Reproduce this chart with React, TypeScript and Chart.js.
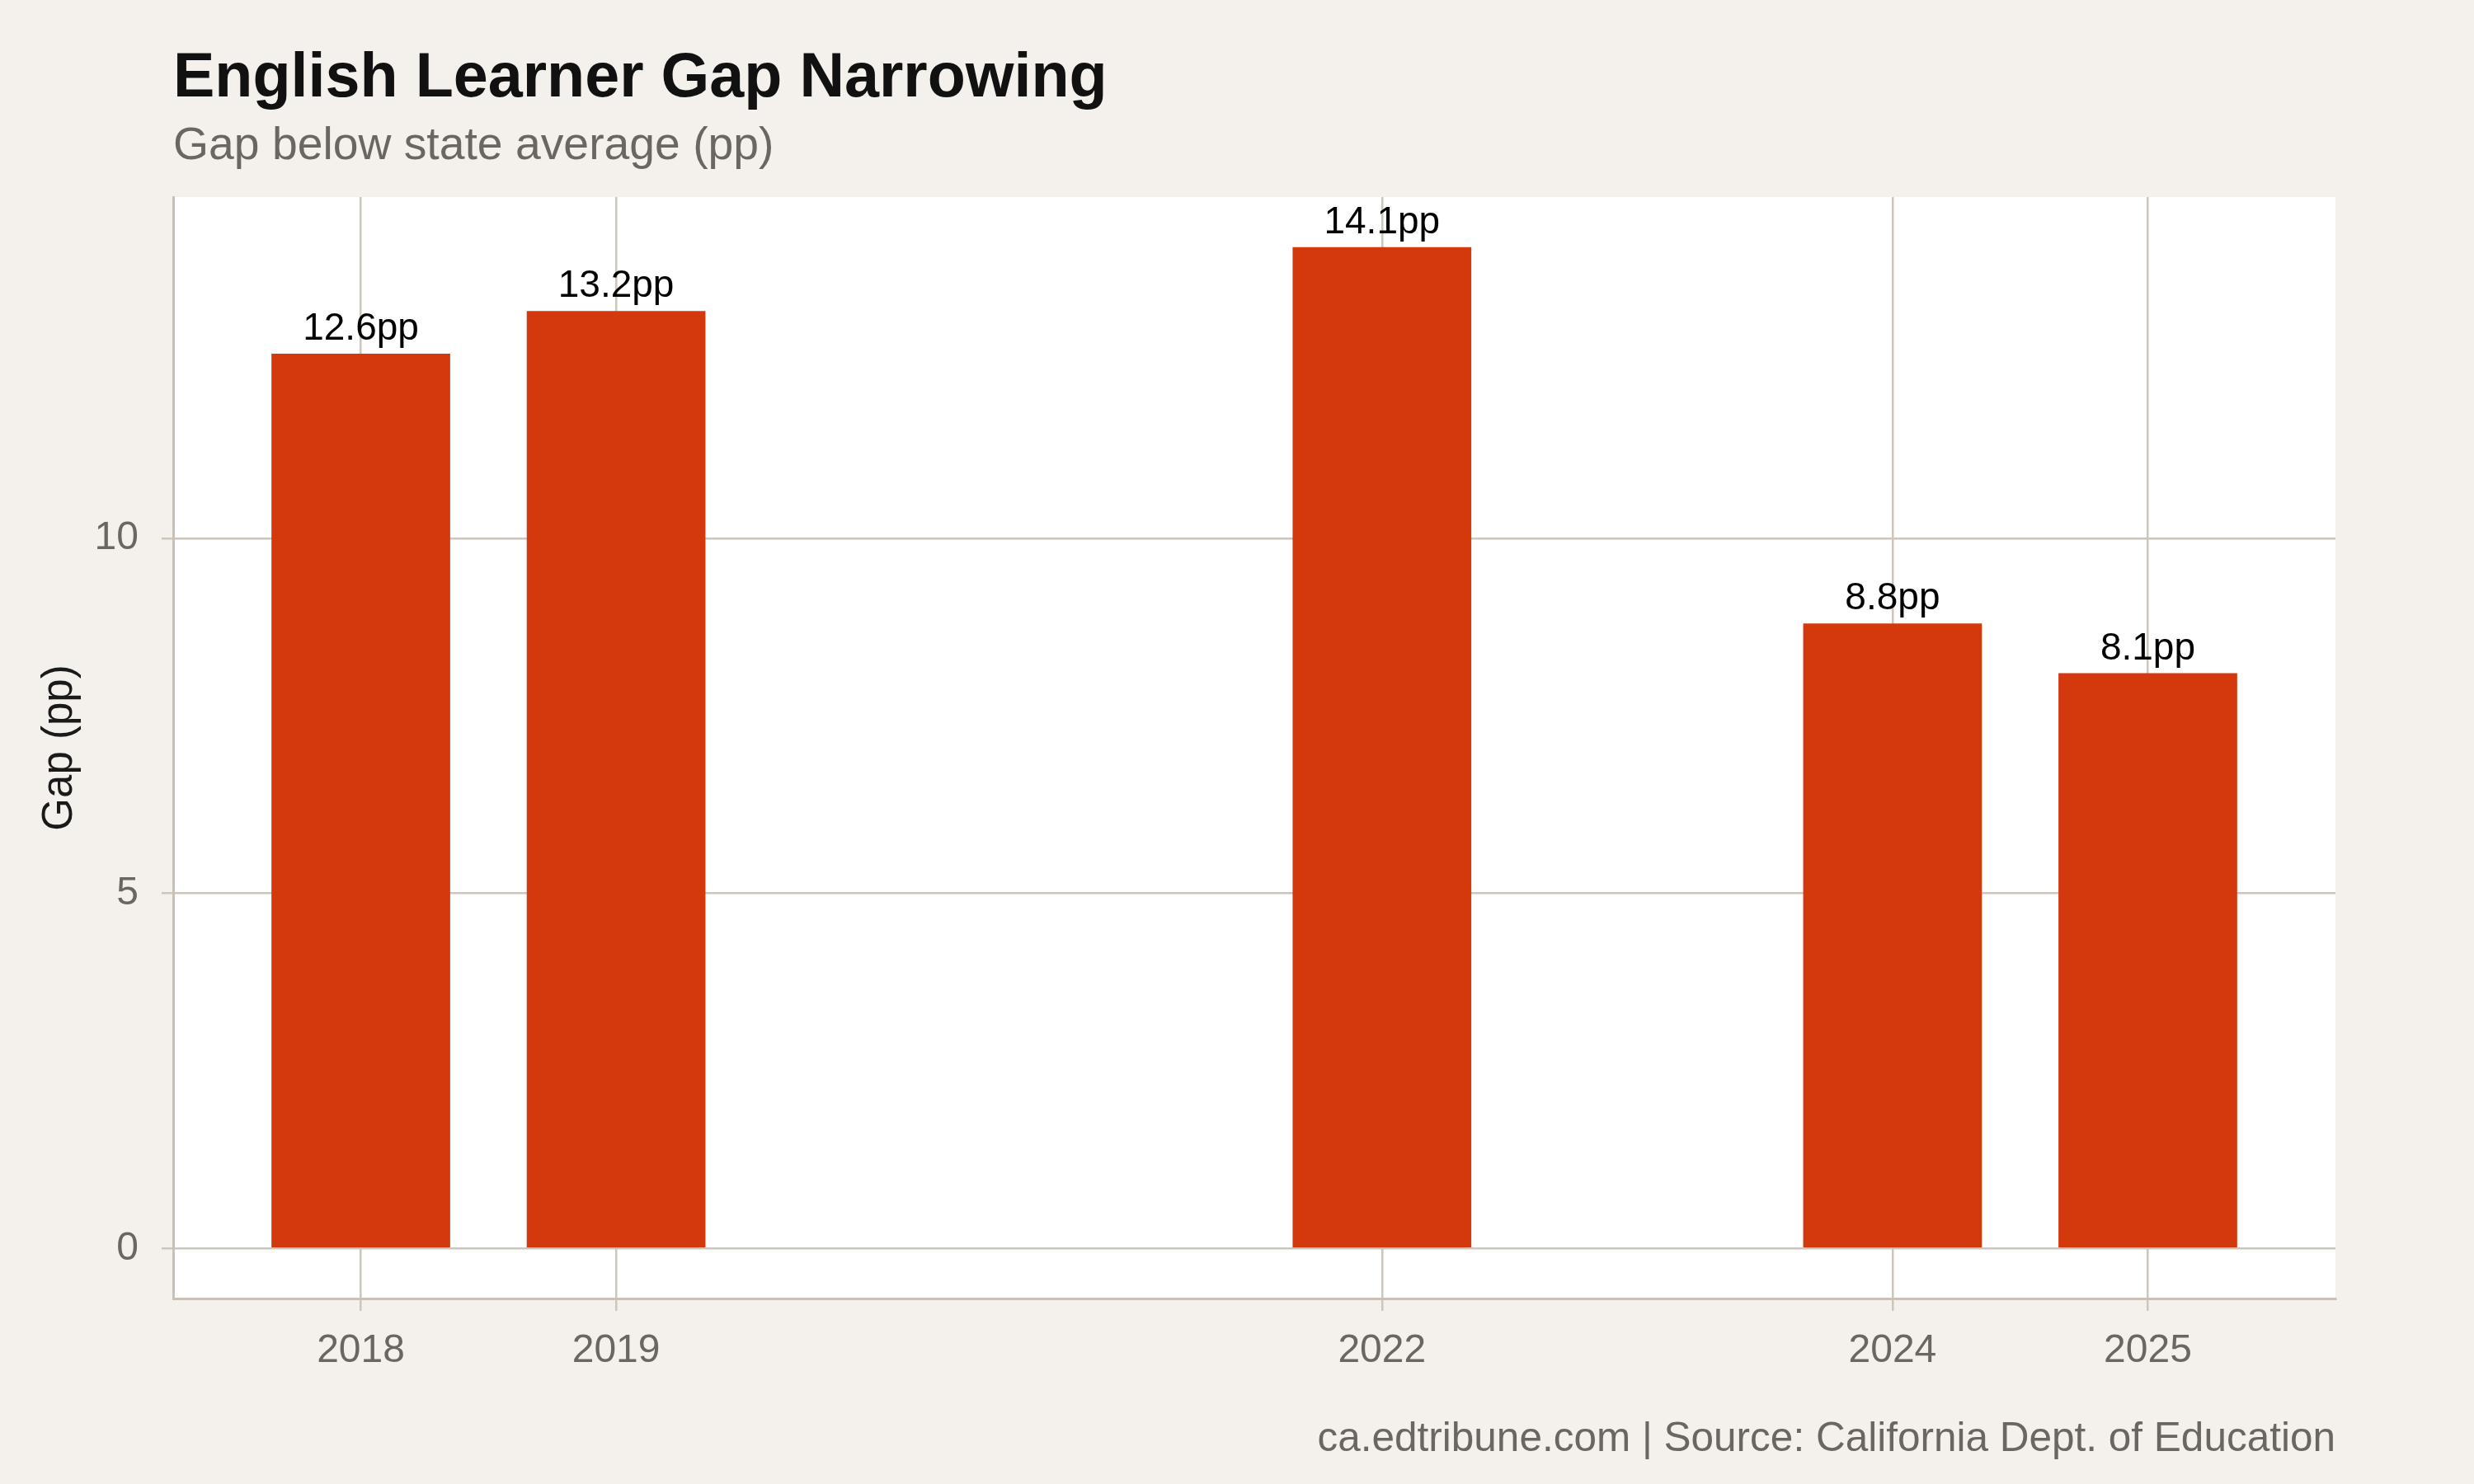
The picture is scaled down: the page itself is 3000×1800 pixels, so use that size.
import React, { useEffect, useRef } from "react";
import { Chart, registerables } from "chart.js";

Chart.register(...registerables);

const years = [2018, 2019, 2022, 2024, 2025];
const gaps = [12.6, 13.2, 14.1, 8.8, 8.1];
const yTickValues = [0, 5, 10];
const titleText = "English Learner Gap Narrowing";
const subtitleText = "Gap below state average (pp)";
const yTitleText = "Gap (pp)";
const captionText = "ca.edtribune.com | Source: California Dept. of Education";

const FONT = '"Liberation Sans", Arial, Helvetica, sans-serif';
const BG = "#f4f1ec";
const BAR = "#d4380d";
const GRID = "#ccc6bc";
const AXIS = "#c8c1b7";
const MUTED = "#6b6760";

export default function App() {
  const ref = useRef<HTMLCanvasElement | null>(null);

  useEffect(() => {
    document.body.style.margin = "0";
    document.body.style.background = BG;
    const canvas = ref.current;
    if (!canvas) return;

    const decor = {
      id: "decor",
      beforeDraw(chart: any) {
        const { ctx, chartArea } = chart;
        ctx.save();
        ctx.fillStyle = BG;
        ctx.fillRect(0, 0, chart.width, chart.height);
        ctx.fillStyle = "#ffffff";
        ctx.fillRect(chartArea.left, chartArea.top, chartArea.right - chartArea.left, chartArea.bottom - chartArea.top);
        ctx.restore();
      },
      afterDatasetsDraw(chart: any) {
        const { ctx } = chart;
        const meta = chart.getDatasetMeta(0);
        ctx.save();
        ctx.fillStyle = "#000000";
        ctx.font = `46px ${FONT}`;
        ctx.textAlign = "center";
        ctx.textBaseline = "alphabetic";
        meta.data.forEach((el: any, i: number) => {
          ctx.fillText(`${gaps[i].toFixed(1)}pp`, el.x, el.y - 17);
        });
        ctx.restore();
      },
      afterDraw(chart: any) {
        const { ctx, chartArea } = chart;
        ctx.save();
        ctx.textAlign = "left";
        ctx.textBaseline = "alphabetic";
        ctx.fillStyle = "#111111";
        ctx.font = `bold 75.5px ${FONT}`;
        ctx.fillText(titleText, chartArea.left, 117);
        ctx.fillStyle = MUTED;
        ctx.font = `55.3px ${FONT}`;
        ctx.fillText(subtitleText, chartArea.left, 193);
        ctx.textAlign = "right";
        ctx.font = `49.5px ${FONT}`;
        ctx.fillText(captionText, chartArea.right, 1760);
        ctx.restore();
      },
    };

    const chart = new Chart(canvas, {
      type: "bar",
      data: {
        datasets: [
          {
            data: years.map((y, i) => ({ x: y, y: gaps[i] })),
            backgroundColor: BAR,
            borderWidth: 0,
            barPercentage: 0.7,
            categoryPercentage: 1,
          },
        ],
      },
      options: {
        responsive: false,
        animation: false,
        devicePixelRatio: 1,
        layout: { padding: { left: 0, top: 239, right: 168, bottom: 0 } },
        plugins: {
          legend: { display: false },
          tooltip: { enabled: false },
          title: { display: false },
        },
        scales: {
          x: {
            type: "linear",
            min: 2017.265,
            max: 2025.735,
            offset: false,
            afterFit: (s: any) => {
              s.height = 225;
            },
            afterBuildTicks: (s: any) => {
              s.ticks = years.map((v) => ({ value: v }));
            },
            grid: { color: GRID, lineWidth: 2.5, tickLength: 15, offset: false, drawTicks: true },
            border: { display: true, color: AXIS, width: 3 },
            ticks: {
              color: MUTED,
              font: { family: FONT, size: 48 },
              padding: 20,
              maxRotation: 0,
              autoSkip: false,
              callback: (v: any) => String(v),
            },
          },
          y: {
            type: "linear",
            min: -0.705,
            max: 14.805,
            afterFit: (s: any) => {
              s.width = 210;
            },
            afterBuildTicks: (s: any) => {
              s.ticks = yTickValues.map((v) => ({ value: v }));
            },
            grid: { color: GRID, lineWidth: 2.5, tickLength: 14, drawTicks: true },
            border: { display: true, color: AXIS, width: 3 },
            ticks: {
              color: MUTED,
              font: { family: FONT, size: 48 },
              padding: 28,
              callback: (v: any) => String(v),
            },
            title: {
              display: true,
              text: yTitleText,
              color: "#1a1a1a",
              font: { family: FONT, size: 51 },
              padding: { top: 42, bottom: 0 },
            },
          },
        },
      },
      plugins: [decor],
    });

    return () => chart.destroy();
  }, []);

  return (
    <canvas
      ref={ref}
      width={3000}
      height={1800}
      style={{ display: "block", width: 3000, height: 1800 }}
    />
  );
}
